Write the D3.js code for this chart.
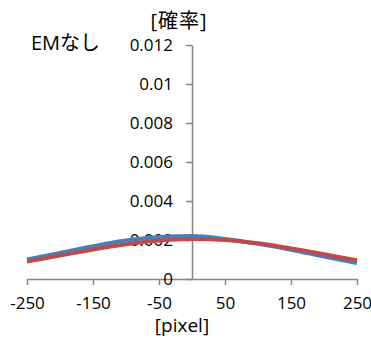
<!DOCTYPE html>
<html>
<head>
<meta charset="utf-8">
<title>EMなし</title>
<style>
  body { margin: 0; background: #fff; }
  text { font-family: "Open Sans", "Noto Sans CJK JP", sans-serif; fill: #000; }
  .axis path, .axis line { stroke: #868686; stroke-width: 1.5; }
</style>
</head>
<body>
<svg width="371" height="342"></svg>
<script src="https://cdn.jsdelivr.net/npm/d3@7"></script>
<script>
  // pixel positions (x) and probabilities for the two curves
  var pixels = [-250, -200, -150, -100, -50, 0, 50, 100, 150, 200, 250];
  var blueVals = [0.00100, 0.00134, 0.00168, 0.00197, 0.00215, 0.00220, 0.00205, 0.00180, 0.00150, 0.00115, 0.00082];
  var redVals  = [0.00090, 0.00120, 0.00151, 0.00178, 0.00197, 0.00205, 0.00200, 0.00183, 0.00157, 0.00127, 0.00096];

  var xTicks = [-250, -150, -50, 50, 150, 250];
  var yTicks = [0, 0.002, 0.004, 0.006, 0.008, 0.01, 0.012];
  var yTickLabels = ["0", "0.002", "0.004", "0.006", "0.008", "0.01", "0.012"];

  var svg = d3.select("svg");

  var x = d3.scaleLinear().domain([-250, 250]).range([27, 357]);
  var y = d3.scaleLinear().domain([0, 0.012]).range([279, 45]);

  // x axis along y=0
  var gx = svg.append("g")
      .attr("class", "axis")
      .attr("transform", "translate(0," + y(0) + ")")
      .call(d3.axisBottom(x).tickValues(xTicks).tickSize(6).tickPadding(12).tickSizeOuter(0)
        .tickFormat(function(d) { return String(d); }));

  // y axis crossing at pixel 0
  var gy = svg.append("g")
      .attr("class", "axis")
      .attr("transform", "translate(" + x(0) + ",0)")
      .call(d3.axisLeft(y).tickValues(yTicks).tickSize(6).tickPadding(13).tickSizeOuter(0)
        .tickFormat(function(d, i) { return yTickLabels[i]; }));

  svg.selectAll(".axis").attr("font-family", null).attr("font-size", 17);

  var line = d3.line()
      .x(function(d) { return x(d[0]); })
      .y(function(d) { return y(d[1]); })
      .curve(d3.curveMonotoneX);

  svg.append("path")
      .datum(d3.zip(pixels, blueVals))
      .attr("fill", "none")
      .attr("stroke", "#4a7ebb")
      .attr("stroke-width", 4)
      .attr("d", line);

  svg.append("path")
      .datum(d3.zip(pixels, redVals))
      .attr("fill", "none")
      .attr("stroke", "#be4b48")
      .attr("stroke-width", 4)
      .attr("d", line);

  svg.append("text").attr("x", 179).attr("y", 28).attr("text-anchor", "middle")
      .attr("font-size", 20).attr("letter-spacing", 1).text("[確率]");
  svg.append("text").attr("x", 31).attr("y", 50)
      .attr("font-size", 20).text("EMなし");
  svg.append("text").attr("x", 182).attr("y", 332).attr("text-anchor", "middle")
      .attr("font-size", 19).text("[pixel]");
</script>
</body>
</html>
